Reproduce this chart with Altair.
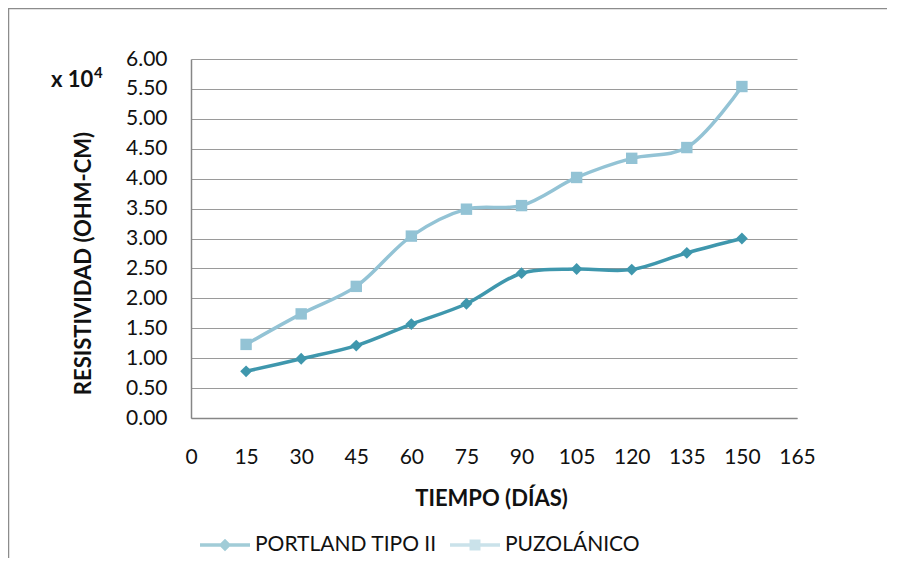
import altair as alt
import pandas as pd

days = [15, 30, 45, 60, 75, 90, 105, 120, 135, 150]
portland = [0.78, 0.99, 1.21, 1.57, 1.91, 2.42, 2.49, 2.48, 2.76, 3.00]
puzolanico = [1.23, 1.74, 2.20, 3.04, 3.49, 3.55, 4.02, 4.34, 4.52, 5.54]
series_names = ["PORTLAND TIPO II", "PUZOLÁNICO"]
colors = ["#3F97AD", "#93C3D5"]
shapes = ["diamond", "square"]
marker_sizes = [140, 130]
x_ticks = list(range(0, 166, 15))
y_ticks = [i * 0.5 for i in range(13)]

rows = []
for d, a, b in zip(days, portland, puzolanico):
    rows.append({"dia": d, "res": a, "serie": series_names[0]})
    rows.append({"dia": d, "res": b, "serie": series_names[1]})
df = pd.DataFrame(rows)

FONT = "Lato"

x_enc = alt.X("dia:Q",
              scale=alt.Scale(domain=[0, 165], nice=False, zero=False),
              axis=alt.Axis(values=x_ticks, tickCount=len(x_ticks), title="TIEMPO (DÍAS)",
                            grid=False, ticks=False,
                            labelPadding=28, labelFontSize=21, labelFont=FONT, labelColor="#111",
                            labelFlush=False, labelOverlap=False, labelBound=False,
                            domainColor="#868686", domainWidth=1.5,
                            titleFont=FONT, titleFontSize=22, titleFontWeight="bold", titleColor="#111",
                            titleX=300, titleY=80, titleBaseline="middle", titleAlign="center"))
y_enc = alt.Y("res:Q",
              scale=alt.Scale(domain=[0, 6], nice=False),
              axis=alt.Axis(values=y_ticks, tickCount=len(y_ticks), format=".2f",
                            title="RESISTIVIDAD (OHM-CM)",
                            grid=True, gridColor="#9a9a9a", gridWidth=1.2, ticks=False,
                            labelPadding=24, labelFontSize=21, labelFont=FONT, labelColor="#111",
                            labelOverlap=False, labelFlush=False, labelBound=False,
                            domainColor="#868686", domainWidth=1.5,
                            titleFont=FONT, titleFontSize=22, titleFontWeight="bold", titleColor="#111",
                            titleAngle=-90, titleX=-108, titleY=204, titleAlign="center",
                            titleBaseline="middle"))

layers = []
for i, name in enumerate(series_names):
    base = alt.Chart(df).transform_filter(alt.datum.serie == name)
    layers.append(base.mark_line(interpolate="catmull-rom", strokeWidth=3.5, color=colors[i]).encode(
        x=x_enc, y=y_enc))
for i, name in enumerate(series_names):
    base = alt.Chart(df).transform_filter(alt.datum.serie == name)
    layers.append(base.mark_point(filled=True, shape=shapes[i], size=marker_sizes[i],
                                  opacity=1, color=colors[i]).encode(x="dia:Q", y="res:Q"))

leg_paths = [
    "M-1,-0.07H1V0.07H-1Z M0,-0.25L0.25,0L0,0.25L-0.25,0Z",
    "M-1,-0.07H1V0.07H-1Z M-0.22,-0.22H0.22V0.22H-0.22Z",
]
legend_carrier = alt.Chart(df).mark_point(filled=True).encode(
    x="dia:Q", y="res:Q",
    color=alt.Color("serie:N", scale=alt.Scale(domain=series_names, range=colors),
                    legend=alt.Legend(title=None, orient="none", direction="horizontal",
                                      legendX=9, legendY=461, symbolSize=2500,
                                      symbolStrokeWidth=0, symbolOpacity=1,
                                      labelFont=FONT, labelFontSize=21, labelColor="#111",
                                      labelLimit=400, labelOffset=5, columnPadding=13)),
    shape=alt.Shape("serie:N", scale=alt.Scale(domain=series_names, range=leg_paths)),
    opacity=alt.Opacity("res:Q", scale=alt.Scale(range=[0, 0]), legend=None),
)

x10 = alt.Chart(pd.DataFrame({"t": ["x 10"]})).mark_text(
    font=FONT, fontSize=22, fontWeight="bold", align="left", baseline="alphabetic", color="#111"
).encode(x=alt.value(-140), y=alt.value(28), text="t:N")
sup = alt.Chart(pd.DataFrame({"t": ["4"]})).mark_text(
    font=FONT, fontSize=15, fontWeight="bold", align="left", baseline="alphabetic", color="#111"
).encode(x=alt.value(-97), y=alt.value(19), text="t:N")

border_left = alt.Chart(pd.DataFrame({"a": [0]})).mark_rule(
    stroke="#8c8c8c", strokeWidth=1.5
).encode(x=alt.value(-182.5), y=alt.value(-51), y2=alt.value(600))
border_top = alt.Chart(pd.DataFrame({"a": [0]})).mark_rule(
    stroke="#8c8c8c", strokeWidth=1.5
).encode(x=alt.value(-183), x2=alt.value(900), y=alt.value(-50.5))

chart = alt.layer(border_left, border_top, *layers, legend_carrier, x10, sup).properties(
    width=606, height=359,
    padding={"left": 183, "top": 51, "right": 90, "bottom": 140},
    autosize=alt.AutoSizeParams(type="none"),
    background="white",
).configure_view(stroke=None)

chart.save("out.html", embed_options={"renderer": "svg", "actions": False})
